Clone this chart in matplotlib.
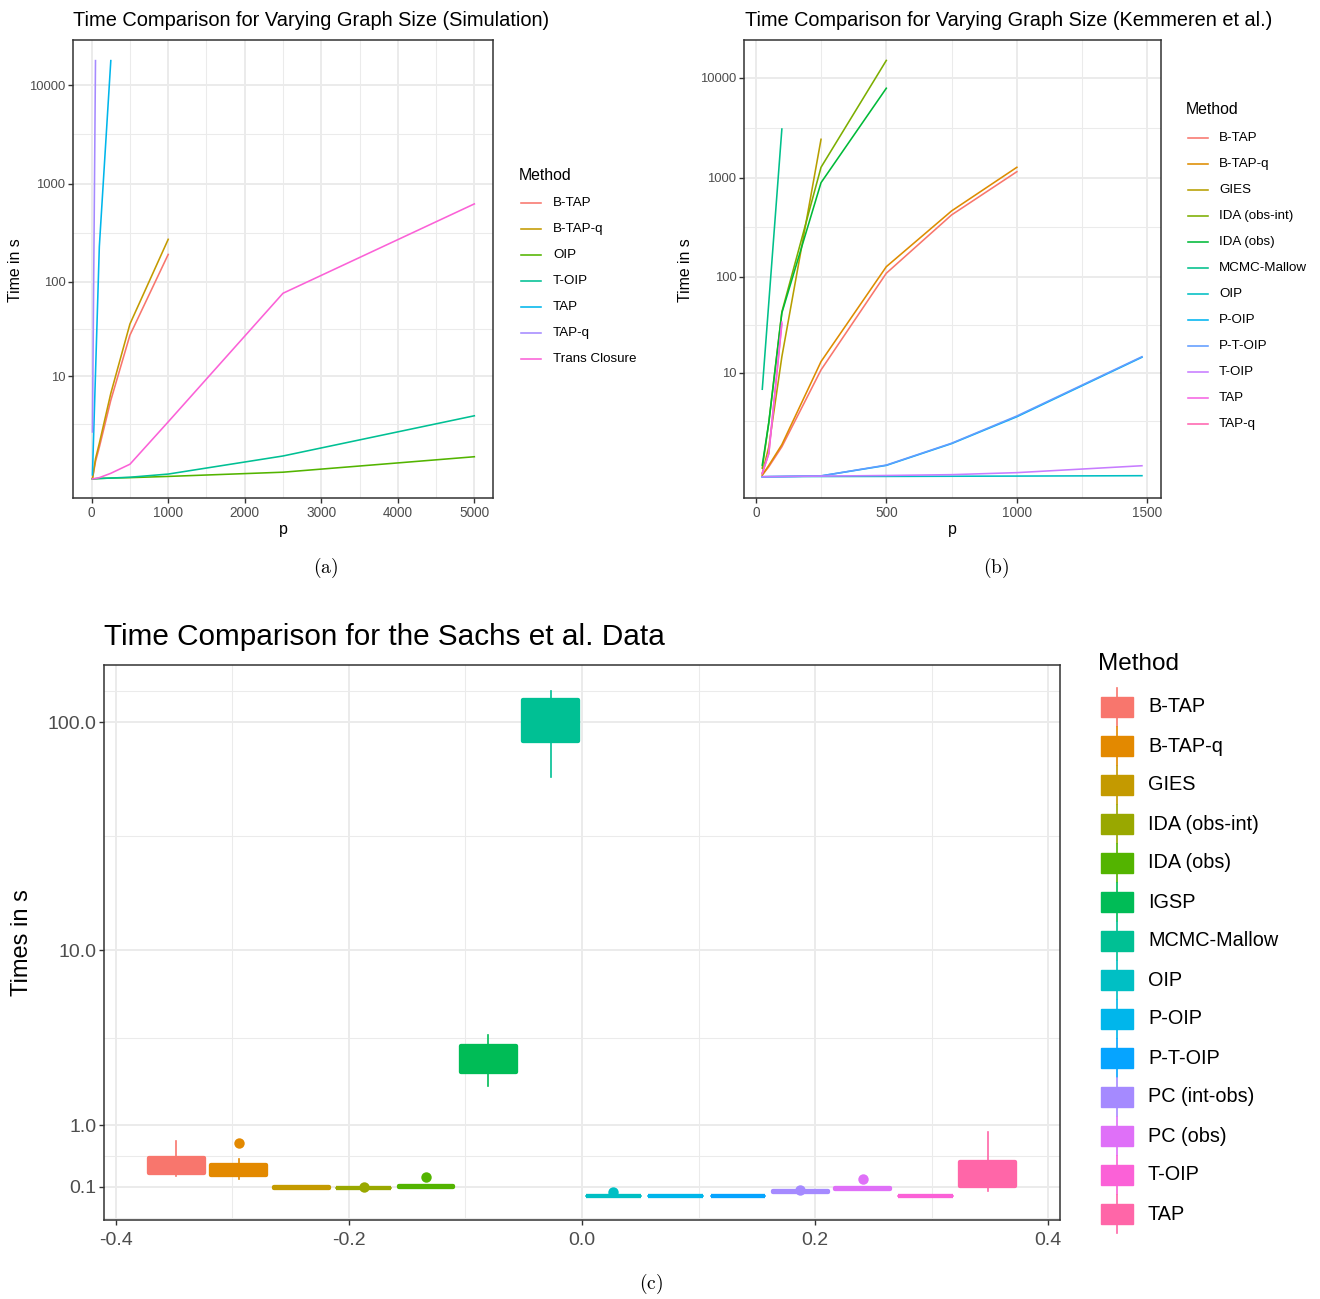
import numpy as np
import matplotlib
matplotlib.use("Agg")
import matplotlib.pyplot as plt
from matplotlib.patches import Rectangle
from matplotlib.lines import Line2D
from matplotlib.ticker import FixedLocator, NullFormatter

plt.rcParams['font.family'] = ['Liberation Sans', 'DejaVu Sans']
plt.rcParams['mathtext.fontset'] = 'cm'

W, H = 1320, 1299

# ---------------- data: (a) simulation ----------------
sim_methods = ["B-TAP", "B-TAP-q", "OIP", "T-OIP", "TAP", "TAP-q", "Trans Closure"]
sim_p_btap = [10, 50, 100, 250, 500, 1000]
sim_t_btap = [0.0, 0.5, 1.1, 5.3, 27.9, 190]
sim_p_btapq = [10, 50, 100, 250, 500, 1000]
sim_t_btapq = [0.0, 0.6, 1.3, 6.4, 36.5, 271]
sim_p_oip = [10, 50, 100, 250, 500, 1000, 2500, 5000]
sim_t_oip = [0.0, 0.005, 0.01, 0.02, 0.03, 0.06, 0.17, 0.68]
sim_p_toip = [10, 50, 100, 250, 500, 1000, 2500, 5000]
sim_t_toip = [0.0, 0.005, 0.01, 0.02, 0.04, 0.12, 0.71, 3.38]
sim_p_tap = [10, 100, 250]
sim_t_tap = [0.1, 228, 17800]
sim_p_tapq = [10, 50]
sim_t_tapq = [2.0, 17800]
sim_p_trans = [10, 50, 100, 250, 500, 1000, 2500, 5000]
sim_t_trans = [0.0, 0.01, 0.03, 0.14, 0.41, 2.8, 76, 622]

# ---------------- data: (b) Kemmeren ----------------
kem_methods = ["B-TAP", "B-TAP-q", "GIES", "IDA (obs-int)", "IDA (obs)", "MCMC-Mallow",
               "OIP", "P-OIP", "P-T-OIP", "T-OIP", "TAP", "TAP-q"]
kem_p_full = [25, 50, 100, 250, 500, 750, 1000, 1479]
kem_p_btap = [25, 50, 100, 250, 500, 750, 1000]
kem_t_btap = [0.04, 0.26, 1.0, 10.8, 109, 422, 1147]
kem_t_btapq = [0.04, 0.3, 1.1, 13.3, 127, 463, 1270]
kem_p_gies = [25, 50, 100, 250]
kem_t_gies = [0.08, 1.0, 15, 2425]
kem_p_ida = [25, 50, 100, 250, 500]
kem_t_ida_oi = [0.22, 2.5, 44, 1270, 15000]
kem_t_ida_o = [0.31, 2.5, 43, 890, 7890]
kem_p_mcmc = [25, 100]
kem_t_mcmc = [6.55, 3075]
kem_t_oip = [0.0, 0.002, 0.004, 0.006, 0.008, 0.012, 0.016, 0.025]
kem_t_poip = [0.0, 0.002, 0.005, 0.02, 0.30, 1.15, 3.0, 14.8]
kem_t_ptoip = [0.0, 0.002, 0.005, 0.02, 0.31, 1.17, 3.07, 15.0]
kem_t_toip = [0.0, 0.003, 0.006, 0.015, 0.03, 0.05, 0.10, 0.29]
kem_p_tap = [25, 50, 100]
kem_t_tap = [0.08, 0.72, 34.5]
kem_t_tapq = [0.08, 0.70, 33.0]

# ---------------- data: (c) Sachs boxplots ----------------
sachs_methods = ["B-TAP", "B-TAP-q", "GIES", "IDA (obs-int)", "IDA (obs)", "IGSP",
                 "MCMC-Mallow", "OIP", "P-OIP", "P-T-OIP", "PC (int-obs)", "PC (obs)",
                 "T-OIP", "TAP"]
box_lo = [0.224, 0.189, 0.088, 0.084, 0.097, 1.94, 58.2, 0.005, 0.005, 0.005, 0.050, 0.078, 0.005, 0.06]
box_q1 = [0.26, 0.236, 0.088, 0.084, 0.097, 2.365, 83.0, 0.005, 0.005, 0.005, 0.050, 0.078, 0.005, 0.11]
box_med = [0.33, 0.30, 0.092, 0.088, 0.101, 2.8, 100.0, 0.008, 0.008, 0.008, 0.055, 0.082, 0.008, 0.2]
box_q3 = [0.458, 0.362, 0.096, 0.092, 0.106, 3.33, 124.0, 0.011, 0.011, 0.011, 0.060, 0.087, 0.011, 0.40]
box_hi = [0.72, 0.444, 0.096, 0.092, 0.106, 3.82, 135.6, 0.011, 0.011, 0.011, 0.060, 0.087, 0.011, 0.88]
box_out = [[], [0.687], [], [0.098], [0.21], [], [], [0.045], [], [], [0.07], [0.19], [], []]


# ggplot hue palette (HCL -> sRGB)
def hcl_hex(hh, c=100.0, l=65.0):
    u = c * np.cos(np.radians(hh)); v = c * np.sin(np.radians(hh))
    Xn, Yn, Zn = 95.047, 100.0, 108.883
    den = Xn + 15 * Yn + 3 * Zn
    un = 4 * Xn / den; vn = 9 * Yn / den
    Y = Yn * ((l + 16) / 116) ** 3
    up = u / (13 * l) + un; vp = v / (13 * l) + vn
    X = 9.0 * Y * up / (4 * vp)
    Z = -X / 3 - 5 * Y + 3 * Y / vp
    X, Y, Z = X / 100, Y / 100, Z / 100
    r = 3.240479 * X - 1.537150 * Y - 0.498535 * Z
    g = -0.969256 * X + 1.875992 * Y + 0.041556 * Z
    b = 0.055648 * X - 0.204043 * Y + 1.057311 * Z
    def gam(t):
        return 12.92 * t if t <= 0.0031308 else 1.055 * t ** (1 / 2.4) - 0.055
    return matplotlib.colors.to_hex([min(max(gam(t), 0), 1) for t in (r, g, b)])

def hue_pal(n):
    hs = np.linspace(15, 375, n + 1)[:-1] % 360
    return [hcl_hex(h) for h in hs]


# y axis is log10(y + 1)
def fwd(x):
    x = np.asarray(x, dtype=float)
    return np.log10(np.clip(x, -0.999, None) + 1)

def inv(t):
    return 10 ** np.asarray(t, dtype=float) - 1

def gg_minor(majors, lo, hi):
    b = list(fwd(majors))
    bd = b[1] - b[0]
    if lo < b[0]:
        b = [b[0] - bd] + b
    if hi > b[-1]:
        b = b + [b[-1] + bd]
    mids = [(b[i] + b[i + 1]) / 2 for i in range(len(b) - 1)]
    mids = [m for m in mids if lo <= m <= hi]
    return list(inv(mids))

def pax(l, t, r, b):
    return fig.add_axes([l / W, 1 - b / H, (r - l) / W, (b - t) / H])

def fx(px):
    return px / W

def fy(py):
    return 1 - py / H

def style(ax, ysize, xsize, xpad=2):
    ax.set_yscale('function', functions=(fwd, inv))
    for s in ax.spines.values():
        s.set_color('#333333'); s.set_linewidth(1.1)
    ax.grid(which='major', color='#EBEBEB', lw=1.4, zorder=0)
    ax.grid(which='minor', color='#EBEBEB', lw=0.75, zorder=0)
    ax.set_axisbelow(True)
    ax.tick_params(which='major', length=3.5, width=1.0, color='#333333')
    ax.tick_params(which='major', axis='y', labelsize=ysize, labelcolor='#4D4D4D', pad=2)
    ax.tick_params(which='major', axis='x', labelsize=xsize, labelcolor='#4D4D4D', pad=xpad)
    ax.tick_params(which='minor', length=0)
    ax.yaxis.set_minor_formatter(NullFormatter())


fig = plt.figure(figsize=(W / 100, H / 100), dpi=100)

# ---------------- panel (a) ----------------
cols_a = hue_pal(7)
ax1 = pax(73, 40, 493, 498)
style(ax1, 9.4, 9.8)
sim_series = [(sim_p_btap, sim_t_btap), (sim_p_btapq, sim_t_btapq), (sim_p_oip, sim_t_oip),
              (sim_p_toip, sim_t_toip), (sim_p_tap, sim_t_tap), (sim_p_tapq, sim_t_tapq),
              (sim_p_trans, sim_t_trans)]
for (pp, tt), c in zip(sim_series, cols_a):
    ax1.plot(pp, tt, color=c, lw=1.15)
ax1.set_xlim(-244, 5244)
ax1.set_ylim(inv(-0.194), inv(4.46))
ya = [10, 100, 1000, 10000]
ax1.yaxis.set_major_locator(FixedLocator(ya))
ax1.set_yticklabels([str(v) for v in ya])
ax1.yaxis.set_minor_locator(FixedLocator(gg_minor(ya, -0.194, 4.46)))
ax1.set_xticks([0, 1000, 2000, 3000, 4000, 5000])
ax1.xaxis.set_minor_locator(FixedLocator([500, 1500, 2500, 3500, 4500]))
fig.text(fx(73), fy(20), "Time Comparison for Varying Graph Size (Simulation)",
         fontsize=14.4, va='center', ha='left')
fig.text(fx(15), fy(270), "Time in s", rotation=90, fontsize=11.4, va='center', ha='center')
fig.text(fx(283), fy(530), "p", fontsize=11.4, va='center', ha='center')
fig.text(fx(519), fy(175), "Method", fontsize=11.4, va='center', ha='left')
for k, (m, c) in enumerate(zip(sim_methods, cols_a)):
    yy = fy(203 + 26 * k)
    fig.add_artist(Line2D([fx(521), fx(541)], [yy, yy], color=c, lw=1.15))
    fig.text(fx(553), yy, m, fontsize=9.6, va='center', ha='left')
fig.text(fx(326), fy(568), r'$\mathrm{(a)}$', fontsize=14, va='center', ha='center')

# ---------------- panel (b) ----------------
cols_b = hue_pal(12)
ax2 = pax(744, 40, 1161, 498)
style(ax2, 9.4, 9.8)
kem_series = [(kem_p_btap, kem_t_btap), (kem_p_btap, kem_t_btapq), (kem_p_gies, kem_t_gies),
              (kem_p_ida, kem_t_ida_oi), (kem_p_ida, kem_t_ida_o), (kem_p_mcmc, kem_t_mcmc),
              (kem_p_full, kem_t_oip), (kem_p_full, kem_t_poip), (kem_p_full, kem_t_ptoip),
              (kem_p_full, kem_t_toip), (kem_p_tap, kem_t_tap), (kem_p_tap, kem_t_tapq)]
order_b = [0, 1, 2, 3, 4, 5, 6, 7, 8, 9, 11, 10]
for i in order_b:
    pp, tt = kem_series[i]
    ax2.plot(pp, tt, color=cols_b[i], lw=1.15)
ax2.set_xlim(-45, 1552)
ax2.set_ylim(inv(-0.213), inv(4.381))
ax2.yaxis.set_major_locator(FixedLocator(ya))
ax2.set_yticklabels([str(v) for v in ya])
ax2.yaxis.set_minor_locator(FixedLocator(gg_minor(ya, -0.213, 4.381)))
ax2.set_xticks([0, 500, 1000, 1500])
ax2.xaxis.set_minor_locator(FixedLocator([250, 750, 1250]))
fig.text(fx(745), fy(20), "Time Comparison for Varying Graph Size (Kemmeren et al.)",
         fontsize=14.3, va='center', ha='left')
fig.text(fx(686), fy(270), "Time in s", rotation=90, fontsize=11.4, va='center', ha='center')
fig.text(fx(952), fy(530), "p", fontsize=11.4, va='center', ha='center')
fig.text(fx(1186), fy(110), "Method", fontsize=11.4, va='center', ha='left')
for k, (m, c) in enumerate(zip(kem_methods, cols_b)):
    yy = fy(138 + 26 * k)
    fig.add_artist(Line2D([fx(1188), fx(1208)], [yy, yy], color=c, lw=1.15))
    fig.text(fx(1219), yy, m, fontsize=9.6, va='center', ha='left')
fig.text(fx(996), fy(568), r'$\mathrm{(b)}$', fontsize=14, va='center', ha='center')

# ---------------- panel (c) ----------------
cols_c = hue_pal(14)
ax3 = pax(104, 665, 1060, 1220)
style(ax3, 14, 14, xpad=5)
n = len(sachs_methods)
slot = 0.75 / n
bw = slot * 0.88
for i in range(n):
    xc = -0.375 + slot * (i + 0.5)
    c = cols_c[i]
    ax3.add_patch(Rectangle((xc - bw / 2, box_q1[i]), bw, box_q3[i] - box_q1[i],
                            facecolor=c, edgecolor=c, lw=3.1, joinstyle='round', zorder=3))
    ax3.plot([xc, xc], [box_lo[i], box_q1[i]], color=c, lw=1.2, zorder=3)
    ax3.plot([xc, xc], [box_q3[i], box_hi[i]], color=c, lw=1.2, zorder=3)
    ax3.plot([xc - bw / 2, xc + bw / 2], [box_med[i], box_med[i]], color=c, lw=1.2, zorder=3)
    if box_out[i]:
        ax3.plot([xc] * len(box_out[i]), box_out[i], 'o', color=c, ms=7.5, mec='none', zorder=4)
ax3.set_xlim(-0.4103, 0.4103)
ax3.set_ylim(inv(-0.098), inv(2.245))
yc = [0.1, 1.0, 10.0, 100.0]
ax3.yaxis.set_major_locator(FixedLocator(yc))
ax3.set_yticklabels(["0.1", "1.0", "10.0", "100.0"])
ax3.yaxis.set_minor_locator(FixedLocator(gg_minor(yc, -0.098, 2.245)))
ax3.set_xticks([-0.4, -0.2, 0.0, 0.2, 0.4])
ax3.set_xticklabels(["-0.4", "-0.2", "0.0", "0.2", "0.4"])
ax3.xaxis.set_minor_locator(FixedLocator([-0.3, -0.1, 0.1, 0.3]))
fig.text(fx(104), fy(637), "Time Comparison for the Sachs et al. Data",
         fontsize=21.4, va='center', ha='left')
fig.text(fx(22), fy(943), "Times in s", rotation=90, fontsize=17, va='center', ha='center')
fig.text(fx(1098), fy(664), "Method", fontsize=17.5, va='center', ha='left')
for k, (m, c) in enumerate(zip(sachs_methods, cols_c)):
    yc_px = 707 + 39 * k
    fig.add_artist(Line2D([fx(1117), fx(1117)], [fy(yc_px - 19), fy(yc_px + 19)], color=c, lw=1.2))
    fig.add_artist(Rectangle((fx(1101), fy(yc_px + 10)), 32 / W, 20 / H,
                             facecolor=c, edgecolor=c, lw=1.0, transform=fig.transFigure))
    fig.text(fx(1148), fy(yc_px), m, fontsize=14.3, va='center', ha='left')
fig.text(fx(651), fy(1284), r'$\mathrm{(c)}$', fontsize=14, va='center', ha='center')

fig.savefig("out.png", dpi=100)
